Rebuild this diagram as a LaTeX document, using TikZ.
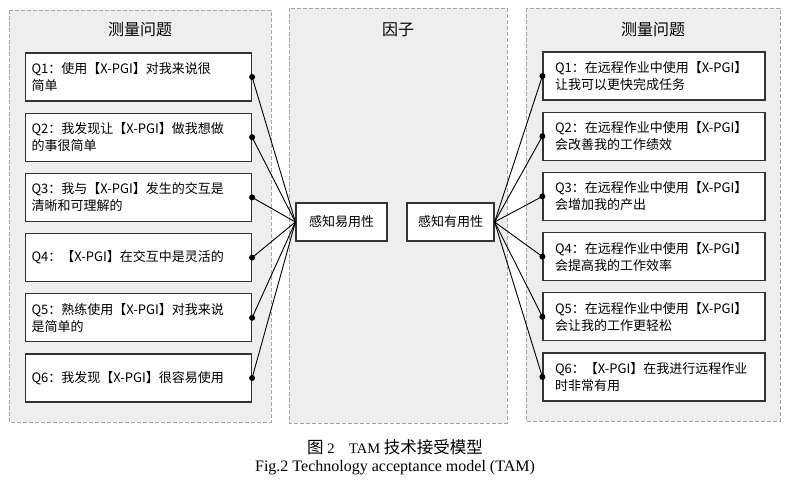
\documentclass[tikz,border=0pt]{standalone}
\usepackage{fontspec}
\setmainfont{Liberation Serif}
\newfontfamily\cjk{Noto Sans CJK SC}
\usetikzlibrary{positioning}

\begin{document}
\begin{tikzpicture}[x=1pt,y=-1pt,
  panel/.style={draw=gray!70,dash pattern=on 4pt off 2pt,fill=gray!13},
  qleft/.style={rectangle,draw=black!80,fill=white,line width=1.2pt,
                minimum height=48pt,text width=214pt,inner xsep=6pt,
                align=left,font=\cjk\fontsize{13}{17}\selectfont},
  qright/.style={qleft,text width=198pt,inner xsep=12pt},
  factor/.style={rectangle,draw=black!80,fill=white,line width=1.2pt,
                 minimum height=38pt,align=center,
                 font=\cjk\fontsize{13}{17}\selectfont},
  heading/.style={font=\cjk\fontsize{16}{18}\selectfont},
  link/.style={black,line width=0.9pt}]

\useasboundingbox (0,0) rectangle (789,484);

\path[panel] (9,10) rectangle (271,422);
\path[panel] (289,8) rectangle (507,423);
\path[panel] (526,8) rectangle (780,421);

\node[heading] (lhead) at (140,30) {测量问题};
\node[heading] (chead) at (398,30) {因子};
\node[heading] (rhead) at (653,30) {测量问题};

\node[qleft] (lq1) at (138.5,77) {Q1：使用【X-PGI】对我来说很\\简单};
\node[qleft,below=11pt of lq1] (lq2) {Q2：我发现让【X-PGI】做我想做\\的事很简单};
\node[qleft,below=11pt of lq2] (lq3) {Q3：我与【X-PGI】发生的交互是\\清晰和可理解的};
\node[qleft,below=11pt of lq3] (lq4) {Q4：【X-PGI】在交互中是灵活的};
\node[qleft,below=11pt of lq4] (lq5) {Q5：熟练使用【X-PGI】对我来说\\是简单的};
\node[qleft,below=11pt of lq5] (lq6) {Q6：我发现【X-PGI】很容易使用};

\node[qright] (rq1) at (654,76) {Q1：在远程作业中使用【X-PGI】\\让我可以更快完成任务};
\node[qright,below=11pt of rq1] (rq2) {Q2：在远程作业中使用【X-PGI】\\会改善我的工作绩效};
\node[qright,below=11pt of rq2] (rq3) {Q3：在远程作业中使用【X-PGI】\\会增加我的产出};
\node[qright,below=11pt of rq3] (rq4) {Q4：在远程作业中使用【X-PGI】\\会提高我的工作效率};
\node[qright,below=11pt of rq4] (rq5) {Q5：在远程作业中使用【X-PGI】\\会让我的工作更轻松};
\node[qright,below=11pt of rq5] (rq6) {Q6：【X-PGI】在我进行远程作业\\时非常有用};

\node[factor,minimum width=91pt] (peou) at (341.5,222) {感知易用性};
\node[factor,minimum width=87pt] (pu) at (450.5,222) {感知有用性};

\foreach \i in {1,...,6} {
  \draw[link] (lq\i.east) -- (peou.west);
  \fill (lq\i.east) circle (3pt);
  \draw[link] (rq\i.west) -- (pu.east);
  \fill (rq\i.west) circle (3pt);
}

\node[font=\fontsize{14.5}{16}\selectfont] (cap1) at (395,447)
  {{\cjk\fontsize{16.5}{18}\selectfont 图} 2\quad TAM {\cjk\fontsize{16.5}{18}\selectfont 技术接受模型}};
\node[font=\fontsize{16}{18}\selectfont] (cap2) at (395,468) {Fig.2 Technology acceptance model (TAM)};
\end{tikzpicture}
\end{document}
